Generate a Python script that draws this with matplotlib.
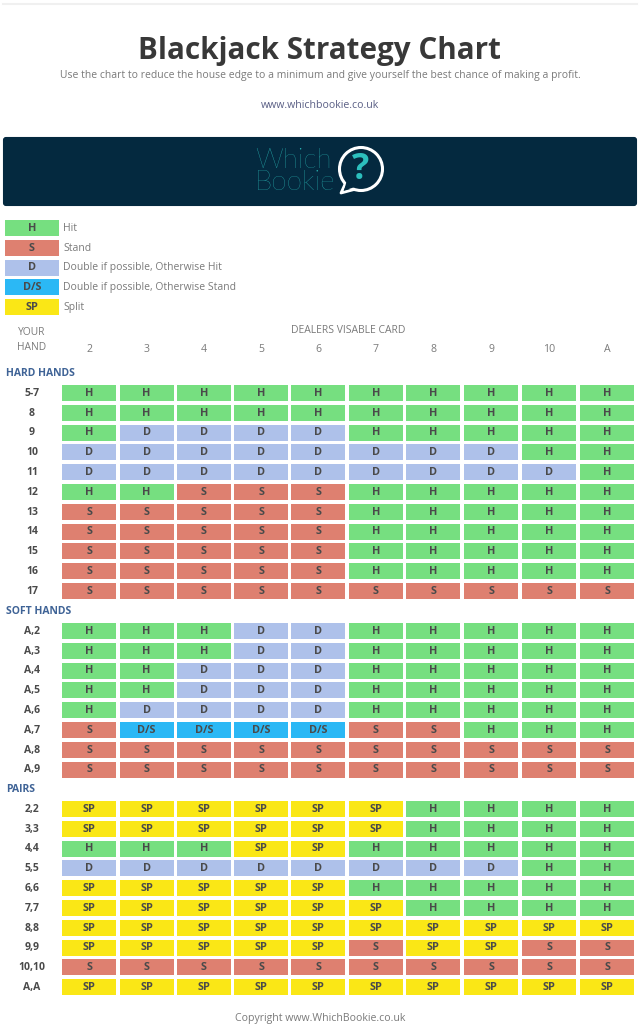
import matplotlib
matplotlib.use('Agg')
import matplotlib.pyplot as plt
from matplotlib.patches import Rectangle, FancyBboxPatch, Circle, Polygon

plt.rcParams['font.family'] = ['Open Sans', 'DejaVu Sans']

# dealer card columns
cards = ['2', '3', '4', '5', '6', '7', '8', '9', '10', 'A']

hard_labels = ['5-7', '8', '9', '10', '11', '12', '13', '14', '15', '16', '17']
hard_moves = [
    ['H', 'H', 'H', 'H', 'H', 'H', 'H', 'H', 'H', 'H'],
    ['H', 'H', 'H', 'H', 'H', 'H', 'H', 'H', 'H', 'H'],
    ['H', 'D', 'D', 'D', 'D', 'H', 'H', 'H', 'H', 'H'],
    ['D', 'D', 'D', 'D', 'D', 'D', 'D', 'D', 'H', 'H'],
    ['D', 'D', 'D', 'D', 'D', 'D', 'D', 'D', 'D', 'H'],
    ['H', 'H', 'S', 'S', 'S', 'H', 'H', 'H', 'H', 'H'],
    ['S', 'S', 'S', 'S', 'S', 'H', 'H', 'H', 'H', 'H'],
    ['S', 'S', 'S', 'S', 'S', 'H', 'H', 'H', 'H', 'H'],
    ['S', 'S', 'S', 'S', 'S', 'H', 'H', 'H', 'H', 'H'],
    ['S', 'S', 'S', 'S', 'S', 'H', 'H', 'H', 'H', 'H'],
    ['S', 'S', 'S', 'S', 'S', 'S', 'S', 'S', 'S', 'S'],
]

soft_labels = ['A,2', 'A,3', 'A,4', 'A,5', 'A,6', 'A,7', 'A,8', 'A,9']
soft_moves = [
    ['H', 'H', 'H', 'D', 'D', 'H', 'H', 'H', 'H', 'H'],
    ['H', 'H', 'H', 'D', 'D', 'H', 'H', 'H', 'H', 'H'],
    ['H', 'H', 'D', 'D', 'D', 'H', 'H', 'H', 'H', 'H'],
    ['H', 'H', 'D', 'D', 'D', 'H', 'H', 'H', 'H', 'H'],
    ['H', 'D', 'D', 'D', 'D', 'H', 'H', 'H', 'H', 'H'],
    ['S', 'D/S', 'D/S', 'D/S', 'D/S', 'S', 'S', 'H', 'H', 'H'],
    ['S', 'S', 'S', 'S', 'S', 'S', 'S', 'S', 'S', 'S'],
    ['S', 'S', 'S', 'S', 'S', 'S', 'S', 'S', 'S', 'S'],
]

pair_labels = ['2,2', '3,3', '4,4', '5,5', '6,6', '7,7', '8,8', '9,9', '10,10', 'A,A']
pair_moves = [
    ['SP', 'SP', 'SP', 'SP', 'SP', 'SP', 'H', 'H', 'H', 'H'],
    ['SP', 'SP', 'SP', 'SP', 'SP', 'SP', 'H', 'H', 'H', 'H'],
    ['H', 'H', 'H', 'SP', 'SP', 'H', 'H', 'H', 'H', 'H'],
    ['D', 'D', 'D', 'D', 'D', 'D', 'D', 'D', 'H', 'H'],
    ['SP', 'SP', 'SP', 'SP', 'SP', 'H', 'H', 'H', 'H', 'H'],
    ['SP', 'SP', 'SP', 'SP', 'SP', 'SP', 'H', 'H', 'H', 'H'],
    ['SP', 'SP', 'SP', 'SP', 'SP', 'SP', 'SP', 'SP', 'SP', 'SP'],
    ['SP', 'SP', 'SP', 'SP', 'SP', 'S', 'SP', 'SP', 'S', 'S'],
    ['S', 'S', 'S', 'S', 'S', 'S', 'S', 'S', 'S', 'S'],
    ['SP', 'SP', 'SP', 'SP', 'SP', 'SP', 'SP', 'SP', 'SP', 'SP'],
]

legend_codes = ['H', 'S', 'D', 'D/S', 'SP']
legend_names = ['Hit', 'Stand', 'Double if possible, Otherwise Hit',
                'Double if possible, Otherwise Stand', 'Split']

colors = {'H': '#76DF80', 'S': '#DE8070', 'D': '#AEC1EA', 'D/S': '#2BB8F5', 'SP': '#FAE716'}

GREY = '#7a7a7a'
DARK = '#4a4a4a'
TEAL = '#2CBFBD'

fig = plt.figure(figsize=(6.4, 10.24), dpi=100)
ax = fig.add_axes([0, 0, 1, 1])
ax.set_xlim(0, 640)
ax.set_ylim(1024, 0)
ax.axis('off')

# top white card, only the top edge shows
ax.plot([3, 637], [3.5, 3.5], color='#f0f0f0', lw=1.5)

ax.text(320, 50.5, 'Blackjack Strategy Chart', ha='center', va='center',
        fontsize=21.3, fontweight='bold', color='#383838')
ax.text(320, 75.5, 'Use the chart to reduce the house edge to a minimum and give yourself the best chance of making a profit.',
        ha='center', va='center', fontsize=7.5, color=GREY)
ax.text(320, 105, 'www.whichbookie.co.uk', ha='center', va='center',
        fontsize=7.6, color='#5a5f85')

# logo banner
ax.add_patch(FancyBboxPatch((4, 138), 632, 67, boxstyle='round,pad=0,rounding_size=2',
                            fc='#04293F', ec='#04293F', lw=1.5))
ax.text(255, 161, 'Which', ha='left', va='center', fontsize=20, color=TEAL,
        family='Lato', fontweight='light')
ax.text(255, 183, 'Bookie', ha='left', va='center', fontsize=20, color=TEAL,
        family='Lato', fontweight='light')
ax.add_patch(Polygon([[346, 182], [341, 193], [356, 189]], fc='#04293F', ec='white', lw=2, joinstyle='round'))
ax.add_patch(Circle((361, 169), 21.5, fc='#04293F', ec='white', lw=2.2))
ax.add_patch(Polygon([[347, 180], [344, 190.5], [355, 187]], fc='#04293F', ec='none'))
ax.text(361, 170, '?', ha='center', va='center', fontsize=26, fontweight='bold', color=TEAL)

# legend
for i, code in enumerate(legend_codes):
    y = 220 + i * 19.8
    ax.add_patch(Rectangle((5, y), 54, 16, fc=colors[code], ec='none'))
    ax.text(32, y + 8.3, code, ha='center', va='center', fontsize=7.8, fontweight='bold', color=DARK)
    ax.text(63, y + 8.3, legend_names[i], ha='left', va='center', fontsize=7.5, color=GREY)

# table layout, the html columns are not quite even
col_lefts = [62.3, 119.6, 176.9, 234.1, 291.4, 348.7, 406.4, 464.4, 522.3, 580.2]
cell_w = 54
cell_h = 16
row_step = 19.8

ax.text(32, 332.5, 'YOUR', ha='center', va='center', fontsize=7.4, color=GREY)
ax.text(32, 348, 'HAND', ha='center', va='center', fontsize=7.4, color=GREY)
ax.text(348, 330.5, 'DEALERS VISABLE CARD', ha='center', va='center', fontsize=7.5, color=GREY)
for c, card in enumerate(cards):
    ax.text(col_lefts[c] + cell_w / 2, 350, card, ha='center', va='center',
            fontsize=7.6, color=GREY)


def draw_section(title, title_y, top, labels, moves):
    ax.text(6, title_y, title, ha='left', va='center', fontsize=7.5,
            fontweight='bold', color='#3f6396')
    for r, row in enumerate(moves):
        y = top + r * row_step
        ax.text(32, y + cell_h / 2 + 0.3, labels[r], ha='center', va='center', fontsize=7.5,
                fontweight='bold', color=DARK)
        for c, move in enumerate(row):
            x = col_lefts[c]
            ax.add_patch(Rectangle((x, y), cell_w, cell_h, fc=colors[move], ec='none'))
            ax.text(x + cell_w / 2, y + cell_h / 2 + 0.3, move, ha='center', va='center',
                    fontsize=7.8, fontweight='bold', color=DARK)


draw_section('HARD HANDS', 373.5, 385, hard_labels, hard_moves)
draw_section('SOFT HANDS', 611.5, 623, soft_labels, soft_moves)
draw_section('PAIRS', 789.5, 801, pair_labels, pair_moves)

ax.text(320, 1018, 'Copyright www.WhichBookie.co.uk', ha='center', va='center',
        fontsize=7.55, color=GREY)

fig.savefig('out.png', dpi=100)
